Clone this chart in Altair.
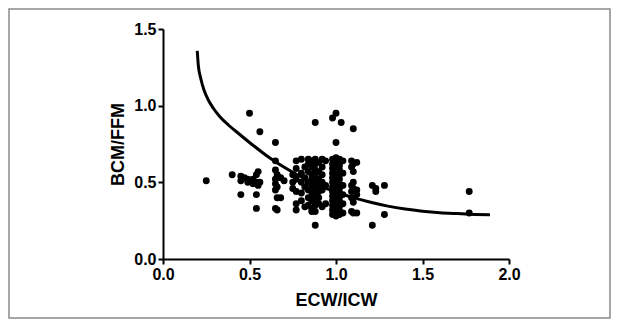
import altair as alt
import pandas as pd

# Scatter data: ECW/ICW columns and their BCM/FFM values
col_x = [0.25, 0.40, 0.45, 0.47, 0.49, 0.50, 0.52, 0.54, 0.55, 0.56,
         0.65, 0.66, 0.68, 0.70, 0.75, 0.77, 0.80, 0.82, 0.84, 0.86,
         0.88, 0.90, 0.92, 0.94, 0.98, 1.00, 1.02, 1.03, 1.04, 1.09,
         1.10, 1.12, 1.21, 1.23, 1.28, 1.77]
col_y = [
    [0.51],
    [0.55],
    [0.54, 0.51, 0.42],
    [0.53],
    [0.50, 0.52],
    [0.95],
    [0.52, 0.49],
    [0.50, 0.55, 0.42, 0.33],
    [0.48, 0.57],
    [0.83, 0.50],
    [0.76, 0.64, 0.58, 0.52, 0.49, 0.45, 0.33],
    [0.55, 0.47, 0.40, 0.32],
    [0.53, 0.40],
    [0.51],
    [0.55, 0.50, 0.46],
    [0.64, 0.59, 0.52, 0.44, 0.36, 0.32],
    [0.65, 0.56, 0.50, 0.43, 0.38],
    [0.60, 0.53, 0.47, 0.34],
    [0.65, 0.62, 0.57, 0.50, 0.45, 0.40, 0.35],
    [0.64, 0.60, 0.55, 0.52, 0.48, 0.44, 0.41, 0.38, 0.33, 0.31],
    [0.89, 0.65, 0.62, 0.58, 0.54, 0.50, 0.46, 0.43, 0.39, 0.35, 0.31, 0.22],
    [0.63, 0.57, 0.52, 0.48, 0.44, 0.40, 0.36],
    [0.65, 0.60, 0.55, 0.50, 0.45, 0.34],
    [0.64, 0.48, 0.36],
    [0.92, 0.65, 0.62, 0.59, 0.56, 0.53, 0.50, 0.47, 0.44, 0.41, 0.38, 0.35, 0.32, 0.29],
    [0.95, 0.76, 0.66, 0.63, 0.60, 0.57, 0.54, 0.51, 0.48, 0.45, 0.42, 0.39, 0.36, 0.33, 0.30, 0.28],
    [0.65, 0.61, 0.58, 0.55, 0.52, 0.49, 0.46, 0.43, 0.40, 0.37, 0.34, 0.31, 0.29],
    [0.89],
    [0.64, 0.56, 0.48, 0.42, 0.36, 0.30],
    [0.64, 0.60, 0.48, 0.44, 0.40, 0.31],
    [0.85, 0.62, 0.57, 0.50, 0.46, 0.37, 0.30],
    [0.63, 0.45, 0.42, 0.30],
    [0.48, 0.22],
    [0.44, 0.46],
    [0.48, 0.29],
    [0.44, 0.30],
]

# Fitted curve, points
curve_x = [0.198, 0.204, 0.218, 0.237, 0.262, 0.291, 0.329, 0.378, 0.435, 0.50,
           0.58, 0.62, 0.72, 0.80, 0.90, 1.00, 1.10, 1.20, 1.30, 1.40,
           1.50, 1.60, 1.70, 1.80, 1.89]
curve_y = [1.357, 1.265, 1.179, 1.102, 1.037, 0.983, 0.928, 0.874, 0.820, 0.760,
           0.690, 0.657, 0.585, 0.535, 0.480, 0.437, 0.400, 0.370, 0.345, 0.326,
           0.312, 0.302, 0.296, 0.291, 0.288]

x_ticks = [0.0, 0.5, 1.0, 1.5, 2.0]
y_ticks = [0.0, 0.5, 1.0, 1.5]

pts = pd.DataFrame([{"x": cx, "y": yy} for cx, ys in zip(col_x, col_y) for yy in ys])
curve = pd.DataFrame({"x": curve_x, "y": curve_y})

FONT = "Liberation Sans"

def ax(values, title, tpad):
    return alt.Axis(values=values, format=".1f", grid=False, title=title,
                    domainColor="black", domainWidth=2, tickColor="black",
                    tickWidth=2, tickSize=5, labelFont=FONT, labelFontWeight="bold",
                    labelFontSize=16, labelColor="black", labelFlush=False,
                    labelPadding=2, titleFont=FONT, titleFontSize=18,
                    titleFontWeight="bold", titleColor="black", titlePadding=tpad)

xs = alt.Scale(domain=[0, 2], nice=False, zero=False)
ys = alt.Scale(domain=[0, 1.5], nice=False, zero=False)

scatter = alt.Chart(pts).mark_circle(size=48, color="black", opacity=1).encode(
    x=alt.X("x:Q", scale=xs, axis=ax(x_ticks, "ECW/ICW", 9)),
    y=alt.Y("y:Q", scale=ys, axis=ax(y_ticks, "BCM/FFM", 6)),
)

line = alt.Chart(curve).mark_line(color="black", strokeWidth=3, interpolate="monotone").encode(
    x="x:Q", y="y:Q"
)

border = alt.Chart(pd.DataFrame({"a": [0]})).mark_rect(
    filled=False, stroke="#8a8a8a", strokeWidth=1.5
).encode(
    x=alt.value(-154), x2=alt.value(447), y=alt.value(-20), y2=alt.value(289)
)

chart = alt.layer(border, line, scatter).properties(
    width=346, height=230,
    padding={"left": 155, "top": 21, "right": 102, "bottom": 60},
    autosize=alt.AutoSizeParams(type="none"),
).configure_view(stroke=None)

chart.save("out.html", embed_options={"renderer": "svg", "actions": False})
